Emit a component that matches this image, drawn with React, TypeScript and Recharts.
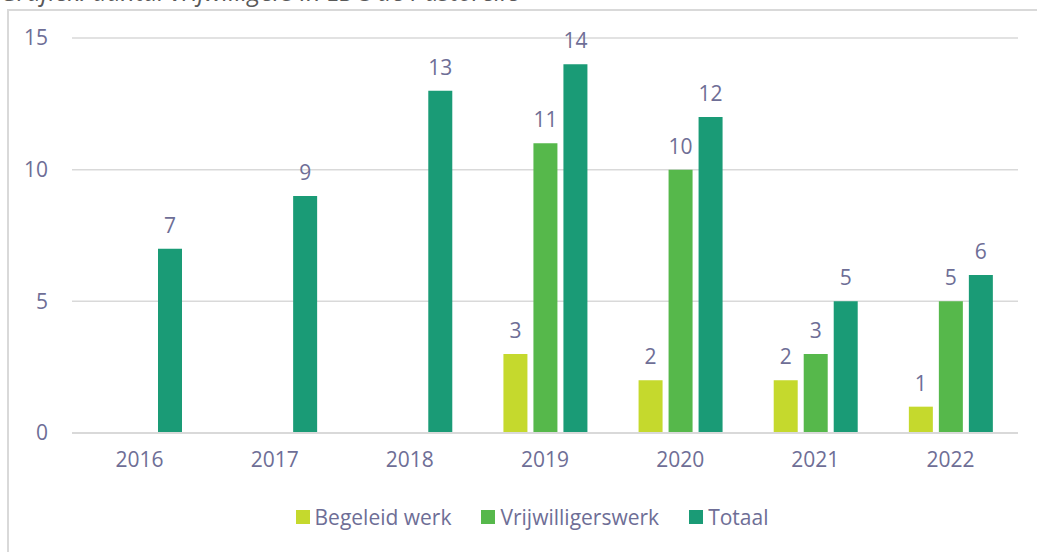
import { Bar, BarChart, CartesianGrid, LabelList, Legend, XAxis, YAxis } from "recharts";

const years = ["2016", "2017", "2018", "2019", "2020", "2021", "2022"];
const begeleidWerk = [null, null, null, 3, 2, 2, 1];
const vrijwilligerswerk = [null, null, null, 11, 10, 3, 5];
const totaal = [7, 9, 13, 14, 12, 5, 6];
const yTicks = [0, 5, 10, 15];

const series = [
  { key: "begeleid", name: "Begeleid werk", color: "#C5D92D" },
  { key: "vrij", name: "Vrijwilligerswerk", color: "#56B84B" },
  { key: "totaal", name: "Totaal", color: "#1A9B76" },
];

const data = years.map((year, i) => ({
  year,
  begeleid: begeleidWerk[i],
  vrij: vrijwilligerswerk[i],
  totaal: totaal[i],
}));

const textColor = "#6E6E96";
const font = "'Open Sans', sans-serif";

function LegendBox() {
  return (
    <div style={{ display: "flex", justifyContent: "center", gap: 30, fontSize: 21, color: textColor }}>
      {series.map((s) => (
        <div key={s.key} style={{ display: "flex", alignItems: "center", gap: 5 }}>
          <span style={{ width: 14, height: 14, background: s.color, display: "inline-block" }} />
          <span>{s.name}</span>
        </div>
      ))}
    </div>
  );
}

export default function App() {
  return (
    <div
      style={{
        position: "absolute",
        left: 0,
        top: 0,
        width: 1037,
        height: 552,
        overflow: "hidden",
        background: "#fff",
        fontFamily: font,
      }}
    >
      <div
        style={{
          position: "absolute",
          left: 0,
          top: -21,
          fontSize: 25,
          lineHeight: "25px",
          fontStyle: "italic",
          color: "#595959",
          whiteSpace: "nowrap",
        }}
      >
        Grafiek: aantal vrijwilligers in LDC de Pastorelle
      </div>
      <div
        style={{
          position: "absolute",
          left: 7,
          top: 9,
          width: 1100,
          height: 600,
          border: "2px solid #D9D9D9",
        }}
      />
      <div style={{ position: "absolute", left: 0, top: 0 }}>
        <BarChart
          width={1037}
          height={552}
          data={data}
          margin={{ top: 8, right: 19, bottom: 0, left: 0 }}
          barSize={24}
          barGap={6}
        >
          <CartesianGrid vertical={false} stroke="#D9D9D9" strokeWidth={1.5} />
          <XAxis
            dataKey="year"
            axisLine={{ stroke: "#D9D9D9", strokeWidth: 2 }}
            tickLine={false}
            tickMargin={13}
            height={119}
            tick={{ fill: textColor, fontSize: 21, fontFamily: font }}
          />
          <YAxis
            width={72}
            domain={[0, 15]}
            ticks={yTicks}
            axisLine={false}
            tickLine={false}
            tickMargin={18}
            tick={{ fill: textColor, fontSize: 21, fontFamily: font }}
          />
          <Legend
            content={() => <LegendBox />}
            layout="horizontal"
            verticalAlign="top"
            wrapperStyle={{ top: 503, left: 20, width: 1024, height: 30 }}
          />
          {series.map((s) => (
            <Bar key={s.key} dataKey={s.key} name={s.name} fill={s.color} isAnimationActive={false}>
              <LabelList dataKey={s.key} position="top" offset={16} fill={textColor} fontSize={21} fontFamily={font} />
            </Bar>
          ))}
        </BarChart>
      </div>
    </div>
  );
}
